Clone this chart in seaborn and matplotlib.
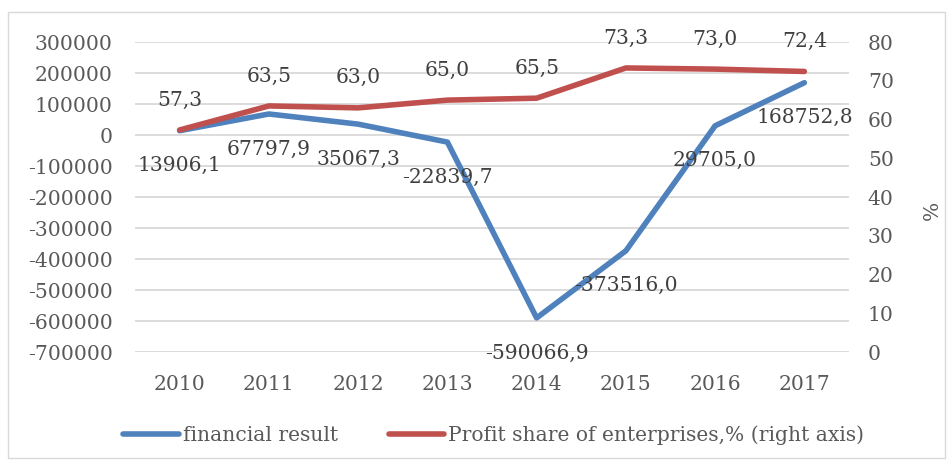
import matplotlib
matplotlib.use("Agg")
import pandas as pd
from matplotlib import pyplot as plt
from matplotlib.patches import Rectangle
import seaborn as sns

sns.set_theme(style="white")
plt.rcParams['font.family'] = ['DejaVu Serif', 'DejaVu Sans']

years = [2010, 2011, 2012, 2013, 2014, 2015, 2016, 2017]
financial_result = [13906.1, 67797.9, 35067.3, -22839.7, -590066.9, -373516.0, 29705.0, 168752.8]
profit_share = [57.3, 63.5, 63.0, 65.0, 65.5, 73.3, 73.0, 72.4]
left_ticks = list(range(-700000, 300001, 100000))
right_ticks = list(range(0, 81, 10))

df = pd.DataFrame({'year': years, 'fin': financial_result, 'share': profit_share})

BLUE = '#4f81bd'
RED = '#c0504d'
TICK = '#595959'
LABEL = '#404040'
FS = 14.6

fig = plt.figure(figsize=(9.53, 4.65), dpi=100)
ax = fig.add_axes([135 / 953, 1 - 352 / 465, (849 - 135) / 953, (352 - 42) / 465])
ax2 = ax.twinx()

sns.lineplot(data=df, x='year', y='fin', ax=ax, color=BLUE, linewidth=4,
             label='financial result', legend=False, solid_capstyle='round', zorder=3)
sns.lineplot(data=df, x='year', y='share', ax=ax2, color=RED, linewidth=4,
             label='Profit share of enterprises,% (right axis)', legend=False,
             solid_capstyle='round', zorder=3)

ax.set_xlim(years[0] - 0.5, years[-1] + 0.5)
ax.set_ylim(left_ticks[0], left_ticks[-1])
ax2.set_ylim(right_ticks[0], right_ticks[-1])
ax.set_xticks(years)
ax.set_yticks(left_ticks)
ax2.set_yticks(right_ticks)
ax.set_yticklabels([str(v) for v in left_ticks])
ax.yaxis.grid(True, color='#d9d9d9', linewidth=1.3)
ax.set_axisbelow(True)
for a in (ax, ax2):
    for s in a.spines.values():
        s.set_visible(False)
ax.tick_params(axis='x', length=0, pad=16.5, labelsize=FS, labelcolor=TICK)
ax.tick_params(axis='y', length=0, pad=16, labelsize=FS, labelcolor=TICK)
ax2.tick_params(axis='y', length=0, pad=13.5, labelsize=FS, labelcolor=TICK)
ax.set_xlabel('')
ax.set_ylabel('')
ax2.set_ylabel('')
fig.text(932 / 953, 1 - 210 / 465, '%', rotation=90, ha='center', va='center',
         fontsize=FS, color=TICK)

# data labels
for x, y in zip(years, financial_result):
    ax.annotate(f'{y:.1f}'.replace('.', ','), (x, y), xytext=(0, -35),
                textcoords='offset pixels', ha='center', va='center',
                fontsize=FS, color=LABEL, zorder=5)
for x, y in zip(years, profit_share):
    ax2.annotate(f'{y:.1f}'.replace('.', ','), (x, y), xytext=(0, 30),
                 textcoords='offset pixels', ha='center', va='center',
                 fontsize=FS, color=LABEL, zorder=5)

h1, l1 = ax.get_legend_handles_labels()
h2, l2 = ax2.get_legend_handles_labels()
fig.legend(h1 + h2, l1 + l2, loc='center', bbox_to_anchor=(0.518, 1 - 435 / 465),
           ncol=2, frameon=False, fontsize=FS, labelcolor=TICK,
           handlelength=2.75, handletextpad=0.2, columnspacing=2.5)

fig.patches.append(Rectangle((8 / 953, 1 - 458 / 465), (945 - 8) / 953, (458 - 12) / 465,
                             transform=fig.transFigure, fill=False,
                             edgecolor='#d9d9d9', linewidth=1.0))

fig.savefig('out.png', dpi=100)
